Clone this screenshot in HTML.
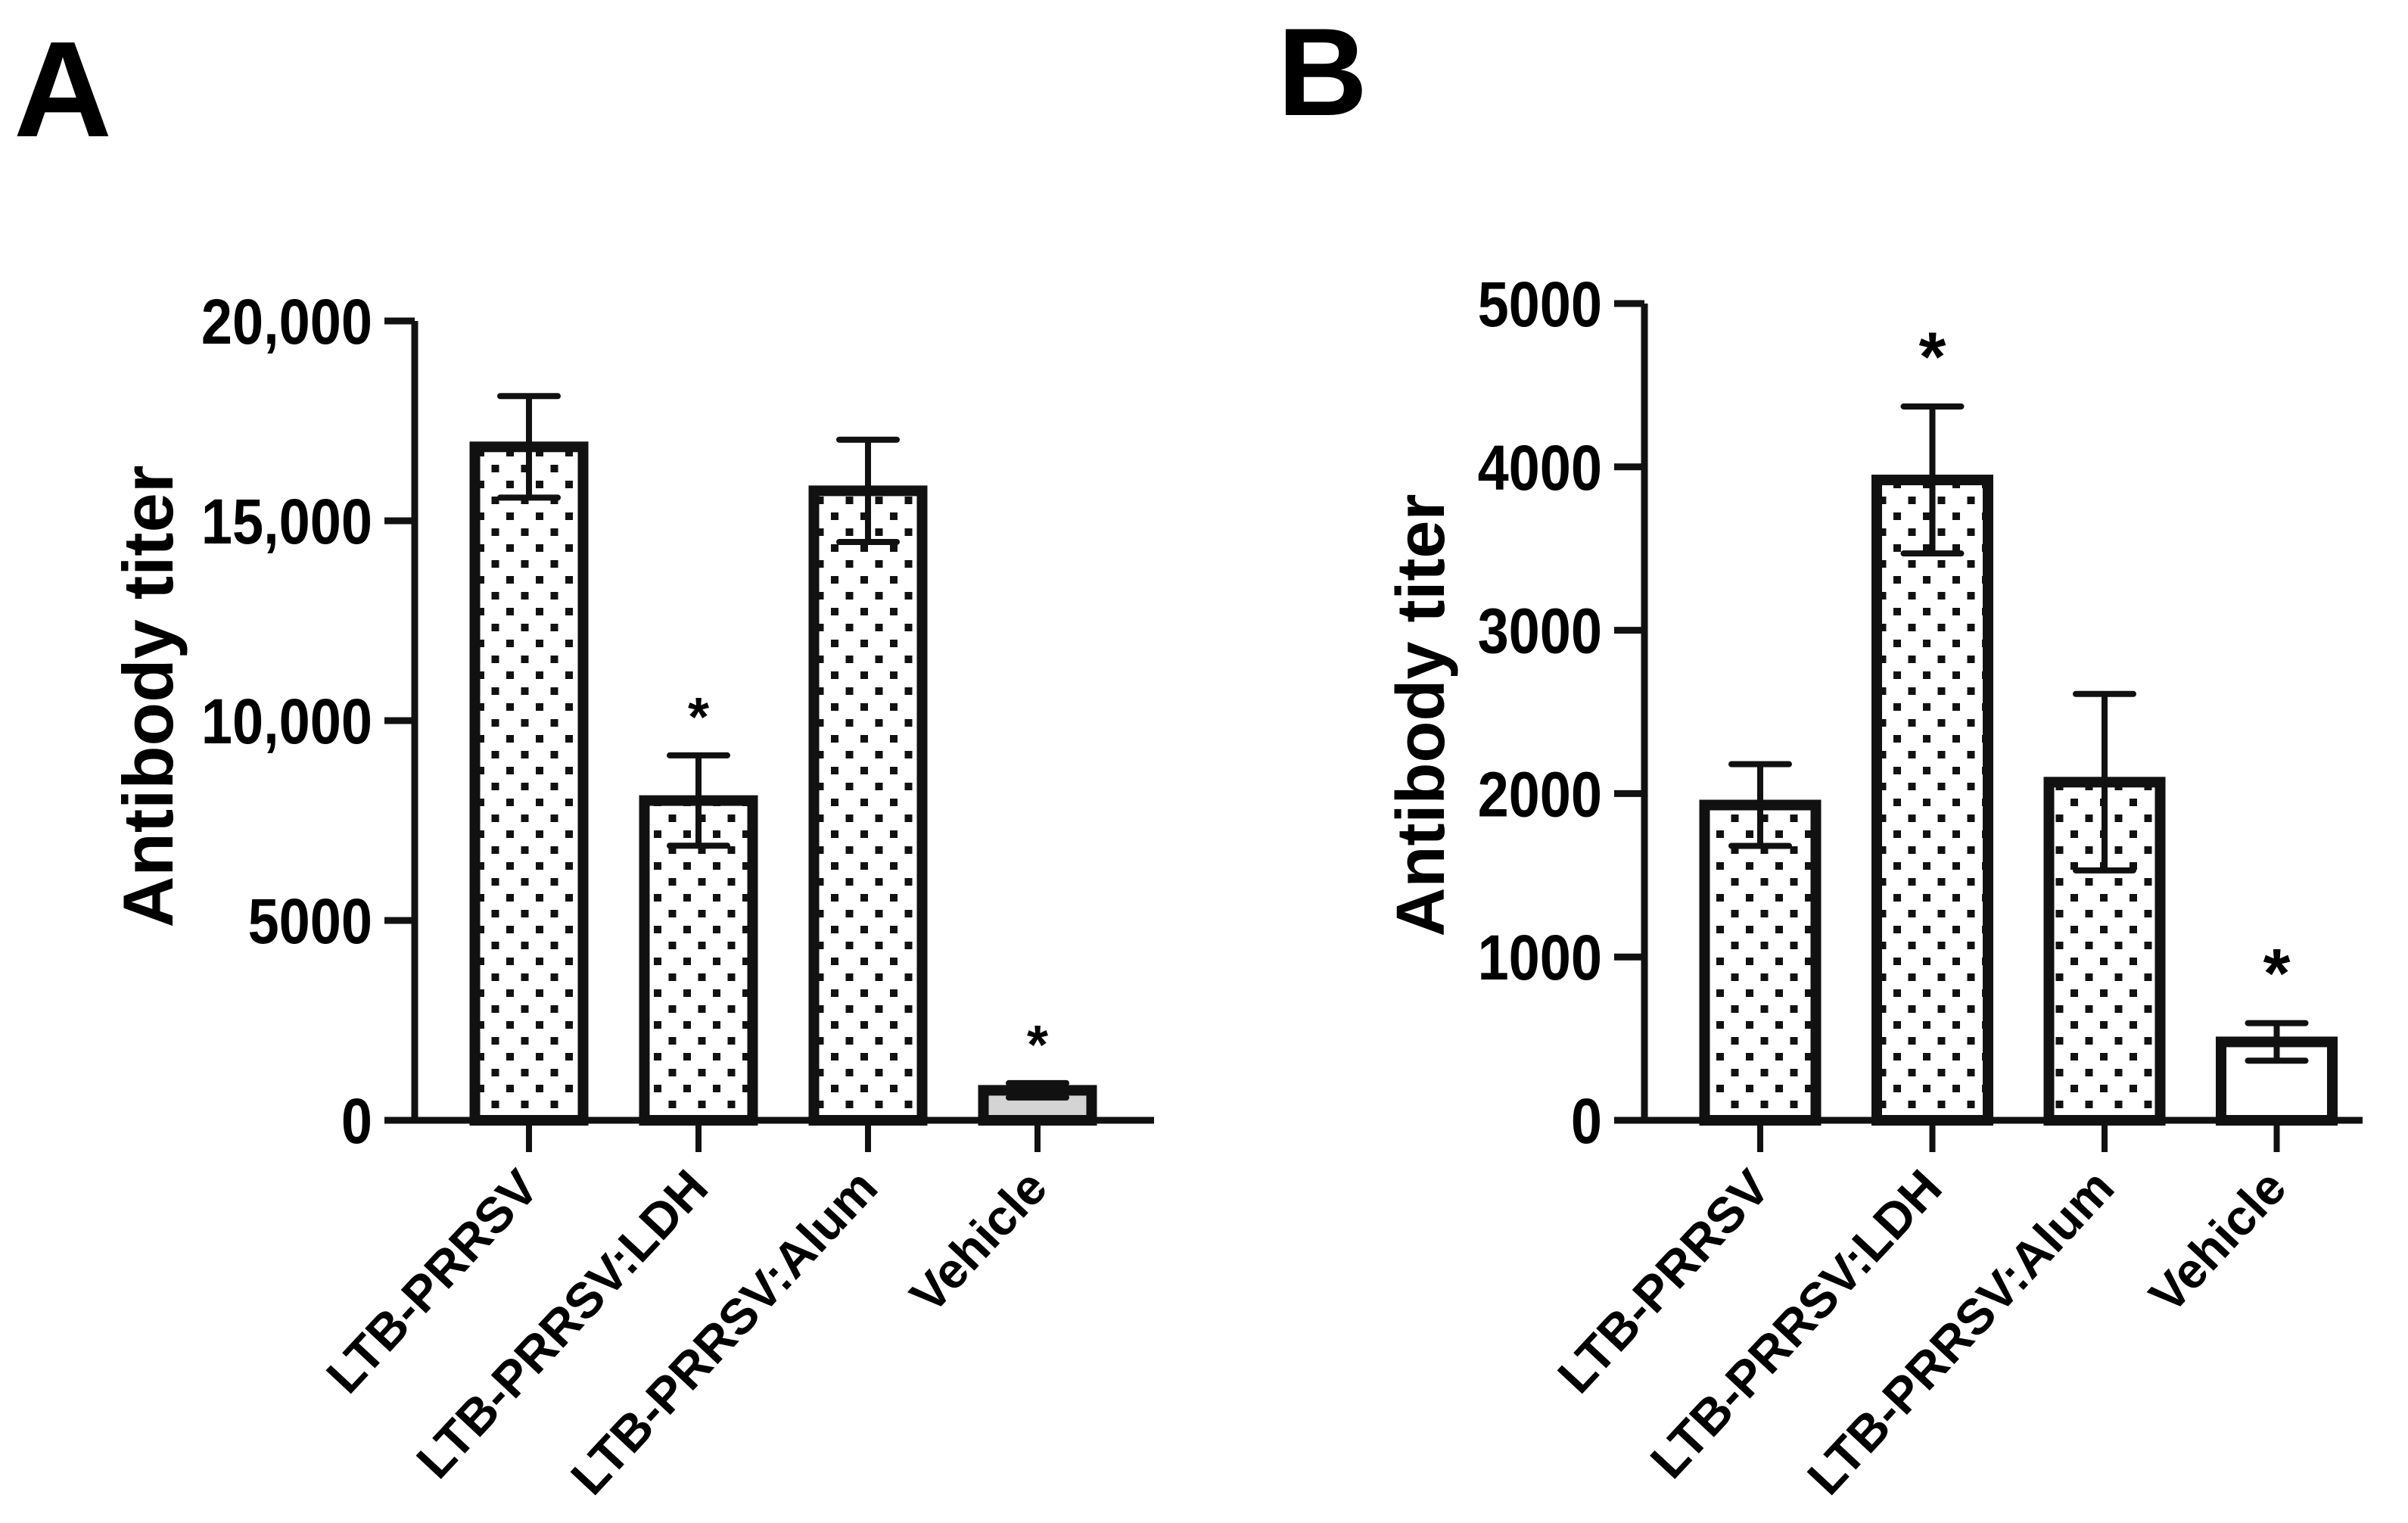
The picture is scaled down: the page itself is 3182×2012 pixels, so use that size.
<!DOCTYPE html>
<html><head><meta charset="utf-8"><style>
html,body{margin:0;padding:0;background:#fff}
svg{display:block}
text{font-family:"Liberation Sans",Arial,sans-serif;font-weight:bold;fill:#000}
</style></head><body>
<svg id="fig" width="3182" height="2012" viewBox="0 0 3182 2012" xmlns="http://www.w3.org/2000/svg">
<defs>
<pattern id="dots" patternUnits="userSpaceOnUse" width="39" height="42" x="0" y="0">
<rect width="39" height="42" fill="#fff"/>
<rect x="6" y="5" width="10" height="10" fill="#111"/>
<rect x="25.5" y="26" width="10" height="10" fill="#111"/>
</pattern>
</defs>
<text x="18" y="180" font-size="180">A</text>
<text x="1688" y="152" font-size="165">B</text>
<g id="gA"></g>
<g id="gB"></g>
</svg>
<script>
const categories = ["LTB-PRRSV","LTB-PRRSV:LDH","LTB-PRRSV:Alum","Vehicle"];
const valuesA = [16850, 8000, 15750, 750];
const errorsA = [1270, 1130, 1280, 180];
const sigA = ["", "*", "", "*"];
const ticksA = [0, 5000, 10000, 15000, 20000];
const tickLabelsA = ["0","5000","10,000","15,000","20,000"];
const valuesB = [1930, 3920, 2070, 480];
const errorsB = [250, 450, 540, 115];
const sigB = ["", "*", "", "*"];
const ticksB = [0, 1000, 2000, 3000, 4000, 5000];
const tickLabelsB = ["0","1000","2000","3000","4000","5000"];

const NS = "http://www.w3.org/2000/svg";
function mk(parent, tag, attrs){const e=document.createElementNS(NS,tag);for(const k in attrs)e.setAttribute(k,attrs[k]);parent.appendChild(e);return e;}

function draw(g, cfg, values, errors, sig, ticks, tickLabels, pfx){
  const y = v => cfg.y0 - (v/cfg.max)*(cfg.y0-cfg.yTop);
  const x = i => cfg.x0 + i*cfg.step;
  values.forEach((v,i)=>{
    const fill = i===3 ? cfg.vehFill : "url(#dots)";
    const r = mk(g,"rect",{x:x(i)-cfg.bw/2,y:y(v),width:cfg.bw,height:cfg.y0-y(v),fill:fill,stroke:"#111","stroke-width":14});
    
    
    const e = mk(g,"path",{d:`M${x(i)} ${y(v+errors[i])}V${y(v-errors[i])}M${x(i)-38} ${y(v+errors[i])}H${x(i)+38}M${x(i)-38} ${y(v-errors[i])}H${x(i)+38}`,stroke:"#111","stroke-width":8,fill:"none","stroke-linecap":"round"});
    
    
    if(sig[i]){
      const s = mk(g,"text",{x:x(i),y:y(v+errors[i])-cfg.starGap,"font-size":cfg.starSize,"text-anchor":"middle"});
      s.textContent = sig[i];
      
      
    }
    const t = mk(g,"line",{x1:x(i),x2:x(i),y1:cfg.y0,y2:cfg.y0+42,stroke:"#111","stroke-width":8});
    
    
    const lx = x(i)+16, ly = cfg.y0+92;
    const lab = mk(g,"text",{x:lx,y:ly,"font-size":66,"text-anchor":"end",transform:`rotate(-47 ${lx} ${ly})`});
    lab.textContent = categories[i];
    
    
  });
  const ax = mk(g,"path",{d:`M${cfg.ax} ${cfg.yTop}V${cfg.y0}M${cfg.ax-40} ${cfg.y0}H${cfg.xEnd}`,stroke:"#111","stroke-width":9,fill:"none"});
  
  
  ticks.forEach((t,i)=>{
    const tl = mk(g,"line",{x1:cfg.ax-40,x2:cfg.ax,y1:y(t),y2:y(t),stroke:"#111","stroke-width":9});
    
    
    const tx = mk(g,"text",{x:0,y:0,"font-size":84,"text-anchor":"end",transform:`translate(${cfg.ax-56} ${y(t)+30}) scale(0.88 1)`});
    tx.textContent = tickLabels[i];
    
    
  });
  const tt = mk(g,"text",{x:0,y:0,"font-size":cfg.titleSize,"text-anchor":"middle",transform:`translate(${cfg.titleX} ${cfg.titleY}) rotate(-90)`});
  tt.textContent = "Antibody titer";
  
  
}

draw(document.getElementById('gA'),
  {ax:548,y0:1480,yTop:424,max:20000,x0:699,step:224,bw:143,xEnd:1525,vehFill:"#d4d4d4",starGap:26,starSize:72,titleX:228,titleY:920,titleSize:94},
  valuesA, errorsA, sigA, ticksA, tickLabelsA, 'a');
draw(document.getElementById('gB'),
  {ax:2173,y0:1480,yTop:401,max:5000,x0:2326,step:227.5,bw:147,xEnd:3122,vehFill:"#fff",starGap:34,starSize:92,titleX:1908,titleY:945,titleSize:90},
  valuesB, errorsB, sigB, ticksB, tickLabelsB, 'b');
</script>
</body></html>
